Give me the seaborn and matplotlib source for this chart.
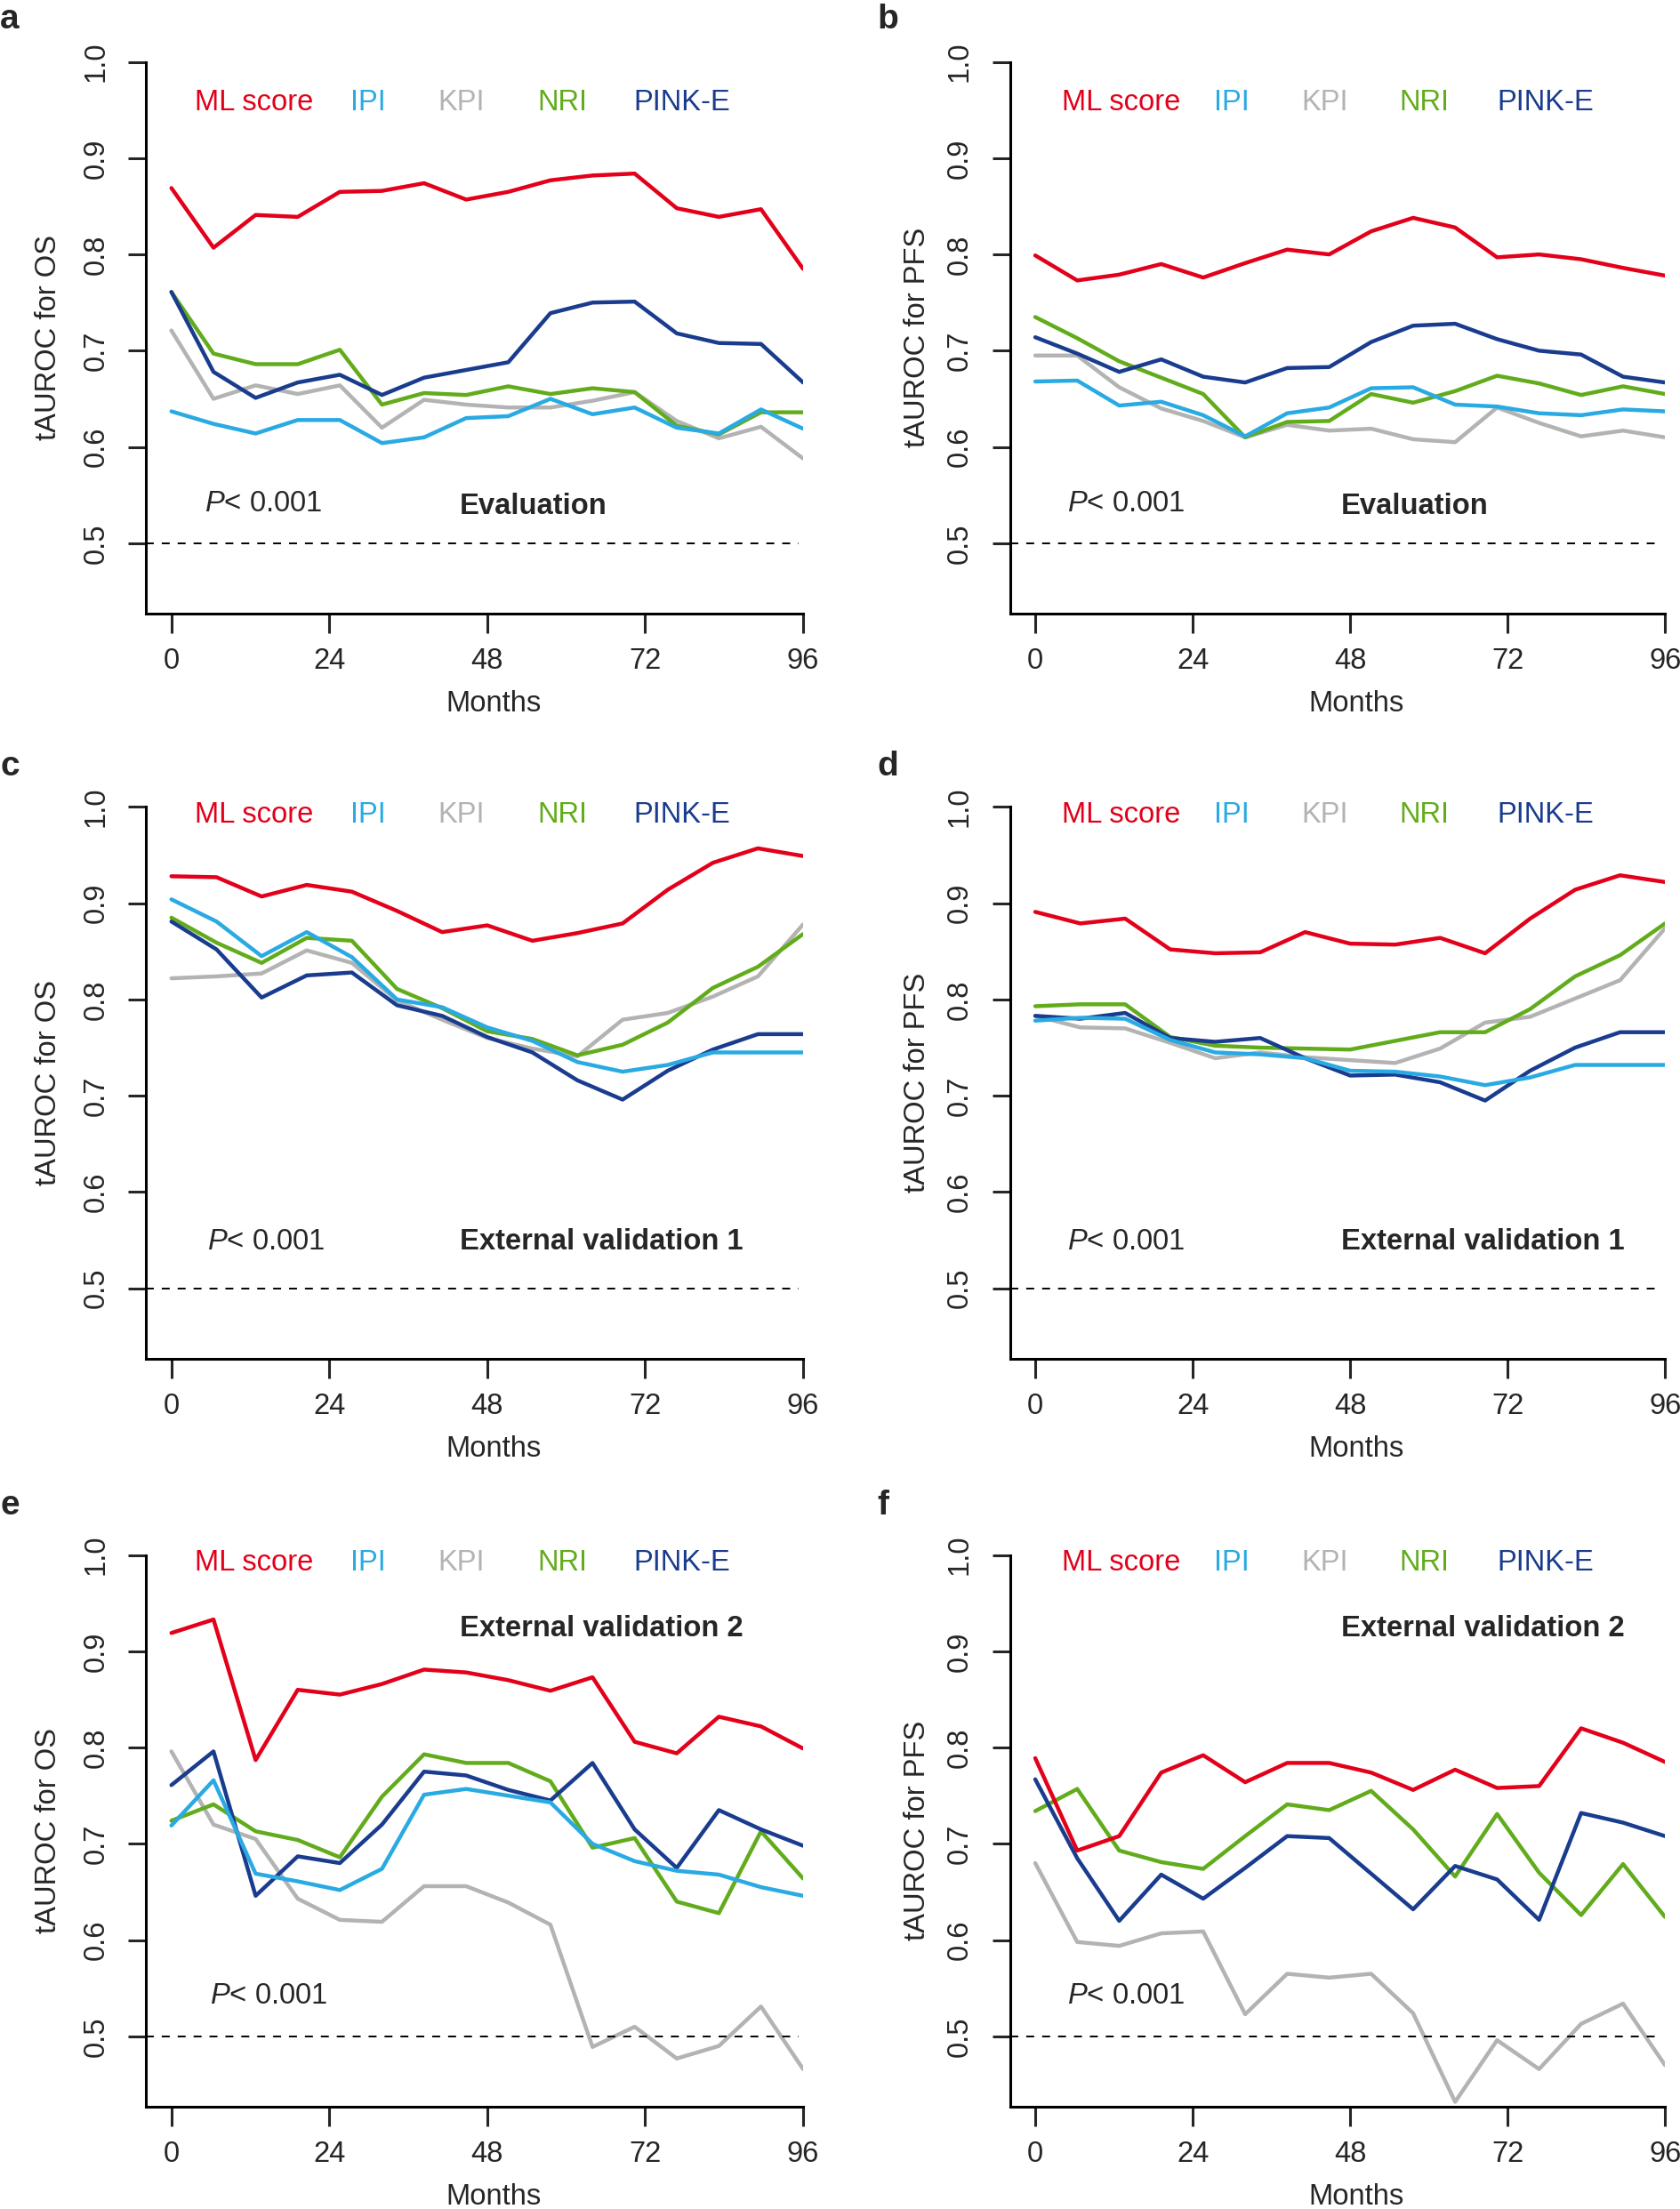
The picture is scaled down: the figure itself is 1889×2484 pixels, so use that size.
import numpy as np
import pandas as pd
import matplotlib
matplotlib.use("Agg")
import matplotlib.pyplot as plt
import seaborn as sns

# ---------------- data ----------------
months16 = [0, 6.4, 12.8, 19.2, 25.6, 32, 38.4, 44.8, 51.2, 57.6, 64, 70.4, 76.8, 83.2, 89.6, 96]
months15 = [0, 6.86, 13.71, 20.57, 27.43, 34.29, 41.14, 48, 54.86, 61.71, 68.57, 75.43, 82.29, 89.14, 96]

models = ["ML score", "IPI", "KPI", "NRI", "PINK-E"]

a_ml = [0.869, 0.807, 0.841, 0.839, 0.865, 0.866, 0.874, 0.857, 0.865, 0.877, 0.882, 0.884, 0.848, 0.839, 0.847, 0.785]
a_ipi = [0.637, 0.624, 0.614, 0.628, 0.628, 0.604, 0.610, 0.630, 0.632, 0.650, 0.634, 0.641, 0.620, 0.614, 0.639, 0.619]
a_kpi = [0.721, 0.650, 0.664, 0.655, 0.664, 0.620, 0.649, 0.644, 0.641, 0.641, 0.648, 0.657, 0.627, 0.609, 0.621, 0.588]
a_nri = [0.761, 0.697, 0.686, 0.686, 0.701, 0.644, 0.656, 0.654, 0.663, 0.655, 0.661, 0.657, 0.622, 0.613, 0.636, 0.636]
a_pink = [0.761, 0.678, 0.651, 0.667, 0.675, 0.654, 0.672, 0.680, 0.688, 0.739, 0.750, 0.751, 0.718, 0.708, 0.707, 0.667]

b_ml = [0.799, 0.773, 0.779, 0.790, 0.776, 0.791, 0.805, 0.800, 0.824, 0.838, 0.828, 0.797, 0.800, 0.795, 0.786, 0.778]
b_ipi = [0.668, 0.669, 0.643, 0.647, 0.633, 0.611, 0.635, 0.641, 0.661, 0.662, 0.644, 0.642, 0.635, 0.633, 0.639, 0.637]
b_kpi = [0.695, 0.695, 0.662, 0.640, 0.627, 0.610, 0.623, 0.617, 0.619, 0.608, 0.605, 0.641, 0.625, 0.611, 0.617, 0.610]
b_nri = [0.735, 0.713, 0.689, 0.672, 0.655, 0.610, 0.626, 0.627, 0.655, 0.646, 0.658, 0.674, 0.666, 0.654, 0.663, 0.655]
b_pink = [0.714, 0.697, 0.678, 0.691, 0.673, 0.667, 0.682, 0.683, 0.709, 0.726, 0.728, 0.712, 0.700, 0.696, 0.673, 0.667]

c_ml = [0.928, 0.927, 0.907, 0.919, 0.912, 0.892, 0.870, 0.877, 0.861, 0.869, 0.879, 0.914, 0.942, 0.957, 0.949]
c_ipi = [0.904, 0.881, 0.845, 0.870, 0.844, 0.800, 0.792, 0.771, 0.757, 0.735, 0.725, 0.732, 0.745, 0.745, 0.745]
c_kpi = [0.822, 0.824, 0.827, 0.851, 0.838, 0.799, 0.779, 0.760, 0.749, 0.741, 0.779, 0.786, 0.803, 0.824, 0.878]
c_nri = [0.885, 0.859, 0.838, 0.864, 0.861, 0.811, 0.791, 0.767, 0.759, 0.742, 0.753, 0.776, 0.812, 0.834, 0.868]
c_pink = [0.881, 0.852, 0.802, 0.825, 0.828, 0.794, 0.783, 0.761, 0.745, 0.716, 0.696, 0.726, 0.748, 0.764, 0.764]

d_ml = [0.891, 0.879, 0.884, 0.852, 0.848, 0.849, 0.870, 0.858, 0.857, 0.864, 0.848, 0.884, 0.914, 0.929, 0.922]
d_ipi = [0.778, 0.781, 0.780, 0.758, 0.745, 0.743, 0.739, 0.726, 0.725, 0.720, 0.711, 0.719, 0.732, 0.732, 0.732]
d_kpi = [0.783, 0.771, 0.770, 0.755, 0.739, 0.745, 0.740, 0.737, 0.734, 0.749, 0.776, 0.782, 0.801, 0.820, 0.874]
d_nri = [0.793, 0.795, 0.795, 0.761, 0.752, 0.750, 0.749, 0.748, 0.757, 0.766, 0.766, 0.790, 0.824, 0.846, 0.879]
d_pink = [0.783, 0.780, 0.786, 0.760, 0.756, 0.760, 0.739, 0.721, 0.722, 0.714, 0.695, 0.726, 0.750, 0.766, 0.766]

e_ml = [0.919, 0.933, 0.787, 0.860, 0.855, 0.866, 0.881, 0.878, 0.870, 0.859, 0.873, 0.806, 0.794, 0.832, 0.822, 0.799]
e_ipi = [0.719, 0.766, 0.669, 0.661, 0.652, 0.674, 0.751, 0.757, 0.750, 0.743, 0.700, 0.682, 0.672, 0.668, 0.655, 0.646]
e_kpi = [0.796, 0.720, 0.705, 0.643, 0.621, 0.619, 0.656, 0.656, 0.639, 0.616, 0.489, 0.510, 0.477, 0.490, 0.531, 0.466]
e_nri = [0.724, 0.741, 0.713, 0.704, 0.686, 0.749, 0.793, 0.784, 0.784, 0.765, 0.696, 0.706, 0.640, 0.628, 0.713, 0.664]
e_pink = [0.761, 0.796, 0.646, 0.687, 0.680, 0.720, 0.775, 0.771, 0.756, 0.745, 0.784, 0.715, 0.675, 0.735, 0.715, 0.698]

f_ml = [0.789, 0.693, 0.708, 0.774, 0.792, 0.764, 0.784, 0.784, 0.774, 0.756, 0.777, 0.758, 0.760, 0.820, 0.805, 0.785]
f_ipi = []  # IPI curve not drawn in panel f
f_kpi = [0.680, 0.598, 0.594, 0.607, 0.609, 0.523, 0.565, 0.561, 0.565, 0.524, 0.432, 0.496, 0.466, 0.513, 0.534, 0.470]
f_nri = [0.734, 0.757, 0.693, 0.681, 0.674, 0.708, 0.741, 0.735, 0.755, 0.715, 0.666, 0.731, 0.670, 0.626, 0.679, 0.624]
f_pink = [0.767, 0.685, 0.620, 0.668, 0.643, 0.675, 0.708, 0.706, 0.669, 0.632, 0.677, 0.663, 0.621, 0.732, 0.722, 0.708]

panel_letters = ["a", "b", "c", "d", "e", "f"]
ylabels = ["tAUROC for OS", "tAUROC for PFS"] * 3
cohorts = ["Evaluation", "Evaluation", "External validation 1", "External validation 1",
           "External validation 2", "External validation 2"]
x_ticks = [0, 24, 48, 72, 96]
y_ticks = [0.5, 0.6, 0.7, 0.8, 0.9, 1.0]
y_ticklabels = ["0.5", "0.6", "0.7", "0.8", "0.9", "1.0"]
p_text = r"$\mathit{P}$< 0.001"

panels = [
    (months16, dict(zip(models, [a_ml, a_ipi, a_kpi, a_nri, a_pink]))),
    (months16, dict(zip(models, [b_ml, b_ipi, b_kpi, b_nri, b_pink]))),
    (months15, dict(zip(models, [c_ml, c_ipi, c_kpi, c_nri, c_pink]))),
    (months15, dict(zip(models, [d_ml, d_ipi, d_kpi, d_nri, d_pink]))),
    (months16, dict(zip(models, [e_ml, e_ipi, e_kpi, e_nri, e_pink]))),
    (months16, dict(zip(models, [f_ml, f_ipi, f_kpi, f_nri, f_pink]))),
]

# ---------------- style ----------------
colors = {"ML score": "#E2001A", "IPI": "#2AAAE2", "KPI": "#B3B3B3",
          "NRI": "#62AC1C", "PINK-E": "#1A3C8E"}
draw_order = ["KPI", "NRI", "PINK-E", "IPI", "ML score"]

sns.set_style("ticks")
plt.rcParams["font.family"] = ["Liberation Sans", "DejaVu Sans"]
plt.rcParams["mathtext.fontset"] = "custom"
plt.rcParams["mathtext.rm"] = "Liberation Sans"
plt.rcParams["mathtext.it"] = "Liberation Sans:italic"
plt.rcParams["mathtext.bf"] = "Liberation Sans:bold"

FS = 23.6
W, H = 1889, 2484
fig = plt.figure(figsize=(W / 100, H / 100), dpi=100)

XMIN, XMAX = -3.84, 96
col_left = [164.3, 1135.7]
col_width = [738.7, 736.5]
row_top = [69.6, 907.4, 1748.6]
ax_h = 620.3

legend_x = [[3.6, 27.2, 40.5, 55.6, 70.2], [4.1, 27.3, 40.6, 55.5, 70.4]]
legend_y = [0.958, 0.958, 0.992, 0.992, 0.992, 0.992]
p_pos = [(5.1, 0.541), (4.9, 0.541), (5.5, 0.548), (4.9, 0.548), (5.9, 0.542), (4.9, 0.542)]
cohort_x = [43.8, 46.6]
cohort_y = [0.538, 0.538, 0.548, 0.548, 0.923, 0.923]
letter_x = [0.0, 986.0]
letter_base = [31.5, 872.0, 1703.0]
ylabel_pad = [16.5, 12.0]

for i, (xs, series) in enumerate(panels):
    r, c = divmod(i, 2)
    left = col_left[c] / W
    bottom = 1 - (row_top[r] + ax_h) / H
    ax = fig.add_axes([left, bottom, col_width[c] / W, ax_h / H])

    for m in draw_order:
        vals = series[m]
        if len(vals) == 0:
            continue
        df = pd.DataFrame({"Months": xs, "tAUROC": vals})
        sns.lineplot(data=df, x="Months", y="tAUROC", color=colors[m], linewidth=3.2,
                     ax=ax, errorbar=None, sort=False)

    ax.axhline(0.5, xmin=0.0, xmax=0.993, color="black", linewidth=1.4,
               linestyle=(0, (4.6, 4.6)))

    ax.set_xlim(XMIN, XMAX)
    ax.set_ylim(0.427, 1.0)
    ax.set_xticks(x_ticks)
    ax.set_xticklabels([str(t) for t in x_ticks])
    ax.set_yticks(y_ticks)
    ax.set_yticklabels(y_ticklabels)
    ax.tick_params(axis="x", direction="out", length=15.8, width=2.2, labelsize=FS, pad=11.5)
    ax.tick_params(axis="y", direction="out", length=14.4, width=2.2, labelsize=FS, pad=15,
                   labelrotation=90)
    for lbl in ax.get_yticklabels():
        lbl.set_va("center")
    sns.despine(ax=ax)
    for s in ["left", "bottom"]:
        ax.spines[s].set_linewidth(2.2)
        ax.spines[s].set_color("black")
    ax.set_xlabel("Months", fontsize=FS, labelpad=12.5)
    ax.xaxis.label.set_x((49 - XMIN) / (XMAX - XMIN))
    ax.set_ylabel(ylabels[i], fontsize=FS, labelpad=ylabel_pad[c])

    for m, lx in zip(models, legend_x[c]):
        ax.text(lx, legend_y[i], m, color=colors[m], fontsize=FS, ha="left", va="center")
    ax.text(p_pos[i][0], p_pos[i][1], p_text, fontsize=FS, ha="left", va="center")
    ax.text(cohort_x[c], cohort_y[i], cohorts[i], fontsize=FS, fontweight="bold",
            ha="left", va="center")

    fig.text(letter_x[c] / W, 1 - letter_base[r] / H, panel_letters[i], fontsize=28,
             fontweight="bold", ha="left", va="baseline")

fig.savefig("out.png", dpi=100)
